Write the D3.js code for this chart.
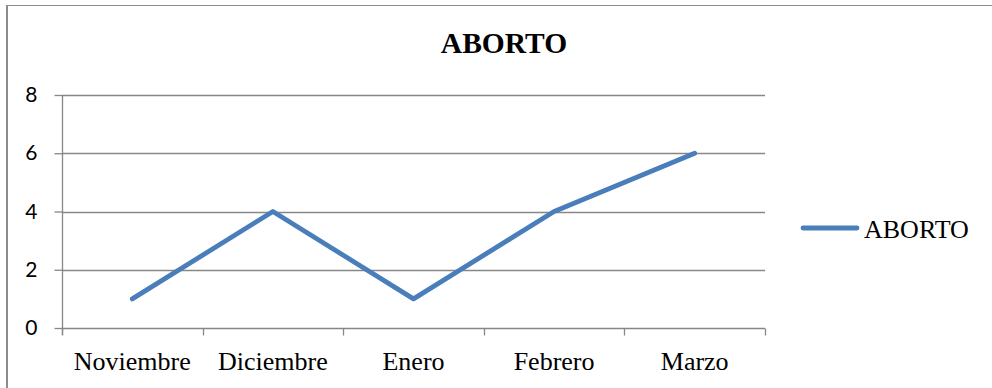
<!DOCTYPE html>
<html>
<head>
<meta charset="utf-8">
<script src="https://cdn.jsdelivr.net/npm/d3@7"></script>
<style>
  html, body { margin: 0; padding: 0; background: #fff; }
  svg { display: block; }
</style>
</head>
<body>
<svg id="chart" width="992" height="388"></svg>
<script>
// Monthly counts for the ABORTO series
const categories = ["Noviembre", "Diciembre", "Enero", "Febrero", "Marzo"];
const values = [1, 4, 1, 4, 6];
const yTicks = [0, 2, 4, 6, 8];
const seriesName = "ABORTO";
const chartTitle = "ABORTO";

const svg = d3.select("#chart");
const lineColor = "#4a7ebb";
const gridColor = "#878787";

// Outer frame (left and top edges)
svg.append("line").attr("x1", 7).attr("x2", 7).attr("y1", 5).attr("y2", 388)
  .attr("stroke", "#8c8c8c").attr("stroke-width", 2);
svg.append("line").attr("x1", 6).attr("x2", 992).attr("y1", 5.5).attr("y2", 5.5)
  .attr("stroke", "#8c8c8c").attr("stroke-width", 1);

const x = d3.scaleBand().domain(categories).range([62, 765]).padding(0);
const y = d3.scaleLinear().domain([0, 8]).range([328, 95]);

// Horizontal gridlines
svg.append("g").selectAll("line").data(yTicks.filter(t => t > 0)).join("line")
  .attr("x1", 62).attr("x2", 765)
  .attr("y1", d => Math.round(y(d)) + 0.5).attr("y2", d => Math.round(y(d)) + 0.5)
  .attr("stroke", gridColor).attr("stroke-width", 1.3);

// Y axis
const yAxis = svg.append("g").attr("transform", "translate(62.5,0)")
  .call(d3.axisLeft(y).tickValues(yTicks).tickSize(8).tickPadding(17).tickFormat(d3.format("d")));
yAxis.select(".domain").attr("d", `M0,${y(8)}V${y(0) + 7}`).attr("stroke", gridColor).attr("stroke-width", 1.3);
yAxis.selectAll(".tick line").attr("stroke", gridColor).attr("stroke-width", 1.3);
yAxis.selectAll(".tick text")
  .attr("font-family", "Lato, 'Liberation Sans', sans-serif")
  .attr("font-size", 21).attr("fill", "#000");

// X axis with ticks on category boundaries
const xAxisG = svg.append("g").attr("transform", `translate(0,${Math.round(y(0)) + 0.5})`);
xAxisG.append("line").attr("x1", 62).attr("x2", 765).attr("y1", 0).attr("y2", 0)
  .attr("stroke", gridColor).attr("stroke-width", 1.3);
const boundaries = categories.map(c => x(c)).concat([x.range()[1]]);
xAxisG.selectAll("line.tick").data(boundaries).join("line").attr("class", "tick")
  .attr("x1", d => Math.round(d) + 0.5).attr("x2", d => Math.round(d) + 0.5)
  .attr("y1", 0).attr("y2", 7)
  .attr("stroke", gridColor).attr("stroke-width", 1.3);
xAxisG.selectAll("text").data(categories).join("text")
  .attr("x", d => x(d) + x.bandwidth() / 2).attr("y", 41)
  .attr("text-anchor", "middle")
  .attr("font-family", "'Liberation Serif', 'Times New Roman', serif")
  .attr("font-size", 26).attr("fill", "#000")
  .text(d => d);

// Series line
const line = d3.line()
  .x((d, i) => x(categories[i]) + x.bandwidth() / 2)
  .y(d => y(d));
svg.append("path").datum(values)
  .attr("d", line)
  .attr("fill", "none").attr("stroke", lineColor).attr("stroke-width", 4.8)
  .attr("stroke-linejoin", "round").attr("stroke-linecap", "round");

// Title
svg.append("text").attr("x", 504).attr("y", 53).attr("text-anchor", "middle")
  .attr("font-family", "'Liberation Serif', 'Times New Roman', serif")
  .attr("font-weight", "bold").attr("font-size", 29.5).attr("fill", "#000")
  .text(chartTitle);

// Legend
const legend = svg.append("g");
legend.append("line").attr("x1", 803).attr("x2", 857).attr("y1", 228).attr("y2", 228)
  .attr("stroke", lineColor).attr("stroke-width", 4.8).attr("stroke-linecap", "round");
legend.append("text").attr("x", 864).attr("y", 238)
  .attr("font-family", "'Liberation Serif', 'Times New Roman', serif")
  .attr("font-size", 26).attr("fill", "#000")
  .text(seriesName);
</script>
</body>
</html>
